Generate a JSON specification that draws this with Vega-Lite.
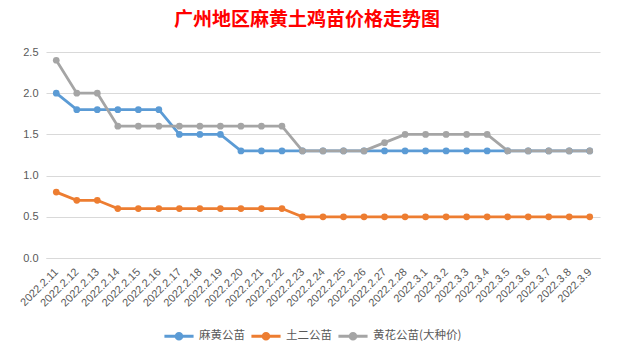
{
  "$schema": "https://vega.github.io/schema/vega-lite/v6.json",
  "width": 554,
  "height": 206,
  "autosize": {"type": "none"},
  "padding": {"left": 46, "top": 52, "right": 18, "bottom": 98},
  "background": "white",
  "title": {
    "text": "广州地区麻黄土鸡苗价格走势图",
    "font": "Noto Sans CJK SC",
    "fontSize": 19,
    "fontWeight": "bold",
    "color": "#FF0000",
    "anchor": "middle",
    "dx": -16,
    "offset": 16
  },
  "config": {
    "view": {"stroke": null},
    "axis": {"labelFont": "Liberation Sans", "labelFontSize": 11, "labelColor": "#595959", "gridColor": "#D9D9D9", "ticks": false, "title": null},
    "legend": {"labelFont": "Noto Sans CJK SC", "labelFontSize": 11.5, "labelColor": "#595959"}
  },
  "data": {
    "values": [
      {"date": "2022.2.11", "s": "麻黄公苗", "v": 2.0}, {"date": "2022.2.11", "s": "土二公苗", "v": 0.8}, {"date": "2022.2.11", "s": "黄花公苗(大种价)", "v": 2.4},
      {"date": "2022.2.12", "s": "麻黄公苗", "v": 1.8}, {"date": "2022.2.12", "s": "土二公苗", "v": 0.7}, {"date": "2022.2.12", "s": "黄花公苗(大种价)", "v": 2.0},
      {"date": "2022.2.13", "s": "麻黄公苗", "v": 1.8}, {"date": "2022.2.13", "s": "土二公苗", "v": 0.7}, {"date": "2022.2.13", "s": "黄花公苗(大种价)", "v": 2.0},
      {"date": "2022.2.14", "s": "麻黄公苗", "v": 1.8}, {"date": "2022.2.14", "s": "土二公苗", "v": 0.6}, {"date": "2022.2.14", "s": "黄花公苗(大种价)", "v": 1.6},
      {"date": "2022.2.15", "s": "麻黄公苗", "v": 1.8}, {"date": "2022.2.15", "s": "土二公苗", "v": 0.6}, {"date": "2022.2.15", "s": "黄花公苗(大种价)", "v": 1.6},
      {"date": "2022.2.16", "s": "麻黄公苗", "v": 1.8}, {"date": "2022.2.16", "s": "土二公苗", "v": 0.6}, {"date": "2022.2.16", "s": "黄花公苗(大种价)", "v": 1.6},
      {"date": "2022.2.17", "s": "麻黄公苗", "v": 1.5}, {"date": "2022.2.17", "s": "土二公苗", "v": 0.6}, {"date": "2022.2.17", "s": "黄花公苗(大种价)", "v": 1.6},
      {"date": "2022.2.18", "s": "麻黄公苗", "v": 1.5}, {"date": "2022.2.18", "s": "土二公苗", "v": 0.6}, {"date": "2022.2.18", "s": "黄花公苗(大种价)", "v": 1.6},
      {"date": "2022.2.19", "s": "麻黄公苗", "v": 1.5}, {"date": "2022.2.19", "s": "土二公苗", "v": 0.6}, {"date": "2022.2.19", "s": "黄花公苗(大种价)", "v": 1.6},
      {"date": "2022.2.20", "s": "麻黄公苗", "v": 1.3}, {"date": "2022.2.20", "s": "土二公苗", "v": 0.6}, {"date": "2022.2.20", "s": "黄花公苗(大种价)", "v": 1.6},
      {"date": "2022.2.21", "s": "麻黄公苗", "v": 1.3}, {"date": "2022.2.21", "s": "土二公苗", "v": 0.6}, {"date": "2022.2.21", "s": "黄花公苗(大种价)", "v": 1.6},
      {"date": "2022.2.22", "s": "麻黄公苗", "v": 1.3}, {"date": "2022.2.22", "s": "土二公苗", "v": 0.6}, {"date": "2022.2.22", "s": "黄花公苗(大种价)", "v": 1.6},
      {"date": "2022.2.23", "s": "麻黄公苗", "v": 1.3}, {"date": "2022.2.23", "s": "土二公苗", "v": 0.5}, {"date": "2022.2.23", "s": "黄花公苗(大种价)", "v": 1.3},
      {"date": "2022.2.24", "s": "麻黄公苗", "v": 1.3}, {"date": "2022.2.24", "s": "土二公苗", "v": 0.5}, {"date": "2022.2.24", "s": "黄花公苗(大种价)", "v": 1.3},
      {"date": "2022.2.25", "s": "麻黄公苗", "v": 1.3}, {"date": "2022.2.25", "s": "土二公苗", "v": 0.5}, {"date": "2022.2.25", "s": "黄花公苗(大种价)", "v": 1.3},
      {"date": "2022.2.26", "s": "麻黄公苗", "v": 1.3}, {"date": "2022.2.26", "s": "土二公苗", "v": 0.5}, {"date": "2022.2.26", "s": "黄花公苗(大种价)", "v": 1.3},
      {"date": "2022.2.27", "s": "麻黄公苗", "v": 1.3}, {"date": "2022.2.27", "s": "土二公苗", "v": 0.5}, {"date": "2022.2.27", "s": "黄花公苗(大种价)", "v": 1.4},
      {"date": "2022.2.28", "s": "麻黄公苗", "v": 1.3}, {"date": "2022.2.28", "s": "土二公苗", "v": 0.5}, {"date": "2022.2.28", "s": "黄花公苗(大种价)", "v": 1.5},
      {"date": "2022.3.1", "s": "麻黄公苗", "v": 1.3}, {"date": "2022.3.1", "s": "土二公苗", "v": 0.5}, {"date": "2022.3.1", "s": "黄花公苗(大种价)", "v": 1.5},
      {"date": "2022.3.2", "s": "麻黄公苗", "v": 1.3}, {"date": "2022.3.2", "s": "土二公苗", "v": 0.5}, {"date": "2022.3.2", "s": "黄花公苗(大种价)", "v": 1.5},
      {"date": "2022.3.3", "s": "麻黄公苗", "v": 1.3}, {"date": "2022.3.3", "s": "土二公苗", "v": 0.5}, {"date": "2022.3.3", "s": "黄花公苗(大种价)", "v": 1.5},
      {"date": "2022.3.4", "s": "麻黄公苗", "v": 1.3}, {"date": "2022.3.4", "s": "土二公苗", "v": 0.5}, {"date": "2022.3.4", "s": "黄花公苗(大种价)", "v": 1.5},
      {"date": "2022.3.5", "s": "麻黄公苗", "v": 1.3}, {"date": "2022.3.5", "s": "土二公苗", "v": 0.5}, {"date": "2022.3.5", "s": "黄花公苗(大种价)", "v": 1.3},
      {"date": "2022.3.6", "s": "麻黄公苗", "v": 1.3}, {"date": "2022.3.6", "s": "土二公苗", "v": 0.5}, {"date": "2022.3.6", "s": "黄花公苗(大种价)", "v": 1.3},
      {"date": "2022.3.7", "s": "麻黄公苗", "v": 1.3}, {"date": "2022.3.7", "s": "土二公苗", "v": 0.5}, {"date": "2022.3.7", "s": "黄花公苗(大种价)", "v": 1.3},
      {"date": "2022.3.8", "s": "麻黄公苗", "v": 1.3}, {"date": "2022.3.8", "s": "土二公苗", "v": 0.5}, {"date": "2022.3.8", "s": "黄花公苗(大种价)", "v": 1.3},
      {"date": "2022.3.9", "s": "麻黄公苗", "v": 1.3}, {"date": "2022.3.9", "s": "土二公苗", "v": 0.5}, {"date": "2022.3.9", "s": "黄花公苗(大种价)", "v": 1.3}
    ]
  },
  "mark": {"type": "line", "strokeWidth": 2.8, "point": {"filled": true, "size": 45, "opacity": 1}},
  "encoding": {
    "x": {
      "field": "date", "type": "ordinal", "sort": null,
      "scale": {"type": "point", "padding": 0.5},
      "axis": {"labelAngle": -45, "labelAlign": "right", "labelBaseline": "middle", "labelPadding": 12, "domain": true, "domainColor": "#D9D9D9", "grid": false, "labelFontSize": 11}
    },
    "y": {
      "field": "v", "type": "quantitative",
      "scale": {"domain": [0, 2.5], "nice": false},
      "axis": {"values": [0, 0.5, 1, 1.5, 2, 2.5], "format": ".1f", "domain": false, "grid": true, "labelPadding": 8}
    },
    "color": {
      "field": "s", "type": "nominal",
      "scale": {"domain": ["麻黄公苗", "土二公苗", "黄花公苗(大种价)"], "range": ["#5B9BD5", "#ED7D31", "#A5A5A5"]},
      "legend": {
        "title": null, "orient": "none", "direction": "horizontal", "legendX": 117, "legendY": 268,
        "symbolType": "M-1,0H-0.2M0.2,0H1M-0.2,0A0.2,0.2 0 1 1 0.2,0A0.2,0.2 0 1 1 -0.2,0Z",
        "symbolSize": 850, "symbolStrokeWidth": 2.8, "columnPadding": 0, "labelOffset": 4
      }
    }
  }
}
